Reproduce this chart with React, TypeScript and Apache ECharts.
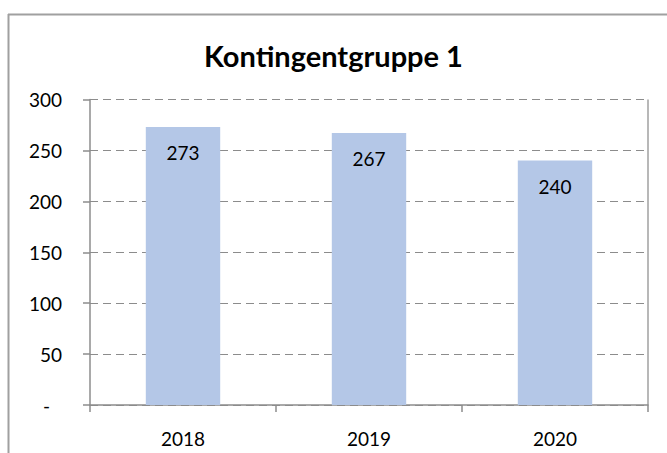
import React, { useEffect, useRef } from "react";
import * as echarts from "echarts";

const categories = ["2018", "2019", "2020"];
const values = [273, 267, 240];
const titleText = "Kontingentgruppe 1";

export default function App() {
  const ref = useRef<HTMLDivElement>(null);
  useEffect(() => {
    if (!ref.current) return;
    const chart = echarts.init(ref.current, null, { renderer: "svg" });
    const font = "Lato, 'Open Sans', sans-serif";
    chart.setOption({
      animation: false,
      backgroundColor: "#ffffff",
      title: {
        text: titleText,
        left: "center",
        top: 36,
        padding: [5, 0, 5, 10],
        textStyle: { fontFamily: font, fontWeight: "bold", fontSize: 29, color: "#000" },
      },
      grid: { left: 90, right: 19, top: 99.5, bottom: 48, containLabel: false },
      xAxis: {
        type: "category",
        data: categories,
        boundaryGap: true,
        axisLine: { lineStyle: { color: "#8c8c8c", width: 1.5 } },
        axisTick: { show: true, alignWithLabel: false, length: 7, lineStyle: { color: "#8c8c8c", width: 1.5 } },
        axisLabel: { fontFamily: font, fontSize: 19, color: "#000", margin: 24 },
      },
      yAxis: {
        type: "value",
        min: 0,
        max: 300,
        interval: 50,
        axisLine: { show: true, lineStyle: { color: "#8c8c8c", width: 1.5 } },
        axisTick: { show: true, length: 7, lineStyle: { color: "#8c8c8c", width: 1.5 } },
        splitLine: { show: true, lineStyle: { color: "#8c8c8c", type: [8, 5], width: 1.2 } },
        axisLabel: {
          fontFamily: font,
          fontSize: 19,
          color: "#000",
          margin: 28,
          formatter: (v: number) => (v === 0 ? "{d|-}" : String(v)),
          rich: { d: { fontFamily: font, fontSize: 19, color: "#000", padding: [0, 12, 0, 0] } },
        },
      },
      graphic: [
        { type: "line", shape: { x1: 8, y1: 14.5, x2: 667, y2: 14.5 }, style: { stroke: "#a0a0a0", lineWidth: 2 } },
        { type: "line", shape: { x1: 8.5, y1: 14, x2: 8.5, y2: 453 }, style: { stroke: "#a0a0a0", lineWidth: 2 } },
        { type: "line", shape: { x1: 648, y1: 99.5, x2: 648, y2: 405 }, style: { stroke: "#a0a0a0", lineWidth: 1.5 } },
      ],
      series: [
        {
          type: "bar",
          data: values,
          barWidth: "40%",
          itemStyle: { color: "#b4c7e7" },
          label: {
            show: true,
            position: "insideTop",
            distance: 16,
            fontFamily: font,
            fontSize: 19,
            color: "#000",
          },
        },
      ],
    });
    return () => chart.dispose();
  }, []);
  return (
    <div
      ref={ref}
      style={{ position: "fixed", left: 0, top: 0, width: 667, height: 453 }}
    />
  );
}
